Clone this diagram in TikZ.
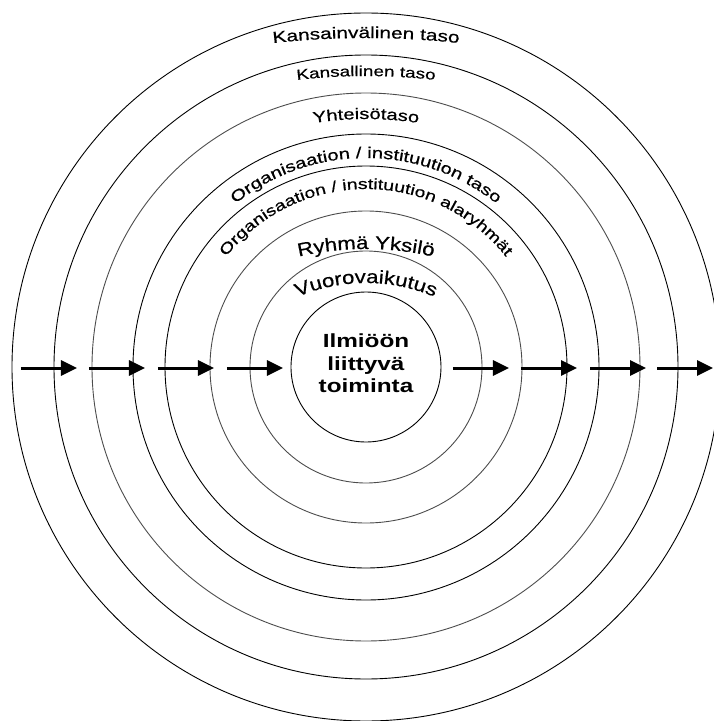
\documentclass[tikz,border=0pt]{standalone}
\usepackage{fontspec}
\setmainfont{Liberation Sans}
\newfontfamily\ringfont[FakeStretch=1.3,FakeBold=0.6]{Liberation Sans}
\newfontfamily\bigringfont[FakeStretch=1.2,FakeBold=0.6]{Liberation Sans}
\newfontfamily\corefont[FakeStretch=1.28]{Liberation Sans}
\usetikzlibrary{arrows.meta,decorations.text}

\begin{document}
\begin{tikzpicture}[x=1pt,y=1pt]
\tikzstyle{ring}=[draw=black,line width=0.9pt]
\tikzstyle{pale}=[draw=black!70,line width=0.9pt]
\tikzstyle{flow}=[line width=3pt,-{Triangle[length=16pt,width=15pt]}]
\tikzstyle{curved}=[decorate,decoration={text along path,text align=center,text={#1}}]
\useasboundingbox (-366,-354) rectangle (347,367);
\coordinate (C) at (0,0);

% the rings
\foreach \r/\s in {354/ring,312/ring,274/pale,233/ring,201/ring,156/pale,116/pale,75/ring}
  \draw[\s] (C) circle[radius=\r];

% the labels on the rings
\path[curved={|\ringfont\fontsize{16}{19}\selectfont|Kansainvälinen taso}] (0,329-846) ++(110:846) arc[start angle=110,end angle=70,radius=846];
\path[curved={|\ringfont\fontsize{14.5}{18}\selectfont|Kansallinen taso}] (0,291-600) ++(115:600) arc[start angle=115,end angle=65,radius=600];
\path[curved={|\ringfont\fontsize{15.5}{18}\selectfont|Yhteisötaso}] (0,248-340) ++(125:340) arc[start angle=125,end angle=55,radius=340];
\path[curved={|\ringfont\fontsize{15.5}{18}\selectfont|Organisaation / instituution taso}] (C) ++(170:209) arc[start angle=170,end angle=10,radius=209];
\path[curved={|\ringfont\fontsize{15}{18}\selectfont|Organisaation / instituution alaryhmät}] (C) ++(175:178) arc[start angle=175,end angle=5,radius=178];
\path[curved={|\bigringfont\fontsize{18.5}{21}\selectfont|Ryhmä Yksilö}] (0,118-300) ++(130:300) arc[start angle=130,end angle=50,radius=300];
\path[curved={|\bigringfont\fontsize{18.5}{21}\selectfont|Vuorovaikutus}] (0,84-175) ++(150:175) arc[start angle=150,end angle=30,radius=175];

% the core
\node[align=center,inner sep=0pt,anchor=north,font=\corefont\bfseries\fontsize{19}{22.5}\selectfont] (core) at (0,33) {Ilmiöön\\liittyvä\\toiminta};

% the arrows
\foreach \a [count=\i] in {-345,-277,-208,-139,87,155,224,291}{
  \coordinate (s\i) at (\a,-1);
  \coordinate (e\i) at (\a+56,-1);
  \draw[flow] (s\i) -- (e\i);
}
\end{tikzpicture}
\end{document}
